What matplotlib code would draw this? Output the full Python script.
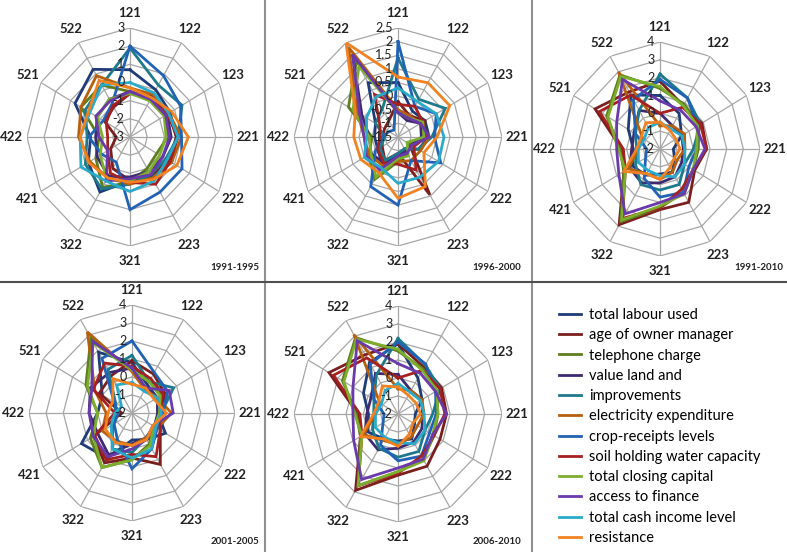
import numpy as np
import matplotlib
matplotlib.use("Agg")
import matplotlib.pyplot as plt
from matplotlib.lines import Line2D
from matplotlib.transforms import ScaledTranslation

plt.rcParams['font.family'] = ['Lato', 'DejaVu Sans']

axis_labels = ['121', '122', '123', '221', '222', '223', '321', '322', '421', '422', '521', '522']

series_names = ['total labour used', 'age of owner manager', 'telephone charge', 'value land and',
                'improvements', 'electricity expenditure', 'crop-receipts levels',
                'soil holding water capacity', 'total closing capital', 'access to finance',
                'total cash income level', 'resistance']
series_colors = ['#1F3C78', '#7A1E1E', '#5E7D1E', '#3E2A6E', '#1E7A8A', '#B5600E',
                 '#2262B5', '#A52020', '#7DAE2E', '#6A3AAA', '#2AAAC8', '#F08222']

p1_title = '1991-1995'
p1_ticks = [-3, -2, -1, 0, 1, 2, 3]
p1_ticklabels = ['-3', '-2', '-1', '0', '1', '2', '3']
p1_values = [
    [0.7, 0.0, -0.3, -0.3, -0.2, -0.5, -0.6, 0.5, -0.2, -0.7, 0.7, 1.3],
    [-0.6, -0.4, -0.4, -0.3, -0.4, -0.6, -0.6, -1.0, -1.7, -2.2, -1.3, -1.1],
    [-0.5, -0.5, -0.6, -0.8, -1.2, -1.0, -0.5, 0.2, -0.7, -1.2, 0.3, 0.3],
    [-0.5, -0.5, -0.5, -0.6, -0.8, -0.8, -0.8, -0.5, -0.8, -1.0, -0.8, -0.6],
    [1.9, 0.3, 0.5, -0.2, -0.6, -0.6, -0.4, 0.3, 0.0, -0.5, 0.0, 0.3],
    [-0.3, -0.3, -0.4, 0.0, -0.2, -0.4, -0.4, -0.4, -0.3, 0.0, 0.3, 0.9],
    [2.0, 0.9, 0.4, 0.0, 0.5, 0.5, 1.0, -1.4, -1.1, -0.6, -1.2, -0.9],
    [-0.6, -0.5, -0.5, -0.2, -0.3, 0.0, -0.5, -0.7, -1.5, -1.7, -1.4, -1.0],
    [-0.6, -0.7, -0.7, -0.9, -1.0, -0.8, -0.6, -0.3, -1.0, -1.4, -0.8, -0.6],
    [-0.5, -0.6, -0.6, -0.7, -0.8, -0.6, -0.7, -0.2, -1.5, -1.2, -0.7, -0.7],
    [0.0, -0.2, -0.4, -0.2, -0.5, -0.2, 0.0, -0.2, 0.3, -0.1, -0.3, 0.3],
    [-0.3, -0.5, -0.2, 0.4, 0.15, -0.3, -0.5, -0.4, -0.2, -0.1, -0.2, 0.6],
]

p2_title = '1996-2000'
p2_ticks = [-1.5, -1, -0.5, 0, 0.5, 1, 1.5, 2, 2.5]
p2_ticklabels = ['-1.5', '-1', '-0.5', '0', '0.5', '1', '1.5', '2', '2.5']
p2_values = [
    [0.5, -0.4, -0.3, -0.3, -0.6, -1.0, -0.7, -0.3, -0.6, -0.6, -0.5, 0.8],
    [-0.2, -0.6, -0.3, -0.5, -1.0, 0.95, -0.9, -0.5, -0.8, -0.9, -0.9, -0.8],
    [-0.5, -0.8, -0.4, -0.5, -1.0, -0.8, -0.6, 0.3, -0.2, -0.5, 0.7, 1.7],
    [-0.6, -0.8, -0.5, -0.6, -0.9, -0.9, -0.8, -0.4, -0.3, -0.4, 0.1, 2.0],
    [1.4, 0.1, 0.6, -0.2, -0.6, -1.0, -0.9, -0.5, -0.7, -1.0, -0.5, -0.3],
    [-0.5, -0.6, -0.5, -0.3, -0.5, -0.5, -0.6, -0.3, -0.2, -0.2, 0.3, 2.3],
    [2.0, -0.2, 0.2, -0.1, 0.4, -0.5, 1.0, 0.6, -0.5, -0.9, -1.1, -1.2],
    [-0.3, -0.2, -0.4, -0.4, -0.8, -0.1, -0.5, -0.4, -0.6, -0.8, -0.7, 0.3],
    [-0.6, -0.7, -0.4, -0.5, -1.1, -0.7, -0.7, 0.2, -0.3, -0.4, 0.5, 1.5],
    [-0.6, -0.7, -0.5, -0.3, -0.9, -0.8, -0.8, -0.1, -0.1, -0.2, 0.2, 2.0],
    [0.3, 0.0, 0.2, 0.27, 0.3, 0.2, 0.2, -0.2, 0.0, -0.3, -0.1, 0.2],
    [0.7, 0.8, 0.8, 0.0, -0.35, 0.6, 0.75, 0.0, 0.15, 0.2, 0.4, 2.5],
]

p3_title = '1991-2010'
p3_ticks = [-2, -1, 0, 1, 2, 3, 4]
p3_ticklabels = ['-2', '-1', '0', '1', '2', '3', '4']
p3_values = [
    [1.0, 0.3, -0.5, -1.2, -1.0, -0.5, -0.6, -0.3, -0.1, -0.4, 0.2, 1.5],
    [1.8, 0.8, 0.9, 0.8, 0.4, 1.45, 1.4, 2.9, 0.5, 0.3, 2.5, 1.7],
    [1.4, 0.9, 0.7, 0.3, 0.3, 0.8, 1.3, 2.7, 0.5, 0.4, 1.7, 2.8],
    [0.0, -0.5, -0.5, -0.6, -0.5, -0.2, -0.1, 0.2, 0.1, -0.3, -0.2, 0.5],
    [2.2, 1.3, 0.8, 0.0, -0.3, 0.3, 0.3, 0.3, -0.3, -0.6, -0.3, 0.5],
    [-0.7, -0.5, -0.3, -0.5, -0.8, -0.5, -0.3, -0.4, 0.2, -0.7, -0.8, 3.0],
    [1.9, 1.3, 0.6, 0.2, 0.0, 0.8, 0.7, -0.1, -1.0, -1.2, -0.3, 1.2],
    [0.0, 0.7, 0.8, 0.8, 0.3, 0.6, 1.3, 2.5, 0.4, 0.2, 2.2, 1.5],
    [1.5, 0.8, 0.6, 0.2, 0.3, 0.9, 1.2, 2.6, 0.4, 0.5, 1.6, 2.7],
    [0.7, 0.5, 0.5, 0.7, 0.3, 0.9, 1.0, 2.2, 0.85, 0.6, 1.0, 2.5],
    [-0.5, -0.7, -0.5, -0.5, -0.3, -0.2, -0.5, -0.6, -0.5, -0.7, -0.9, -0.6],
    [-0.5, -0.8, -0.9, -0.8, -1.0, -0.8, -0.3, -0.4, 0.5, -0.6, -0.7, -0.3],
]

p4_title = '2001-2005'
p4_ticks = [-2, -1, 0, 1, 2, 3, 4]
p4_ticklabels = ['-2', '-1', '0', '1', '2', '3', '4']
p4_values = [
    [0.8, -0.2, -0.3, -0.5, 0.25, -0.3, -0.5, 0.9, 1.4, 0.0, 0.0, 1.9],
    [0.9, 0.5, 0.2, -0.3, -0.1, 1.3, 0.5, 1.2, 0.6, -1.4, 0.2, 0.4],
    [0.4, 0.0, 0.0, -0.3, -0.5, 0.0, 0.6, 1.5, 0.8, 0.0, 1.1, 2.8],
    [0.5, -0.4, -0.3, -0.5, -0.5, -0.4, -0.3, 0.7, 0.3, 0.5, 0.8, 0.6],
    [1.2, 0.0, 0.8, -0.3, -0.5, -0.4, 0.2, 0.3, -0.7, -1.0, -0.9, 0.8],
    [0.3, -0.5, -0.3, 0.3, -0.3, -0.4, -0.2, -0.2, 0.0, -0.5, 0.5, 3.2],
    [2.0, 0.6, 0.4, -0.2, -0.3, 0.3, 1.1, -0.3, -0.8, -1.2, -0.8, 1.5],
    [0.6, 0.2, 0.1, -0.4, -0.1, 0.8, 0.3, 1.0, 0.5, -1.0, 0.6, 1.2],
    [0.4, 0.0, -0.1, -0.4, -0.5, 0.1, 0.6, 1.5, 0.6, 0.0, 1.0, 2.5],
    [0.5, -0.4, 0.5, 0.4, -0.6, -0.3, 0.0, 0.8, 0.6, 0.5, 0.7, 2.6],
    [-0.3, -0.6, -0.3, -0.3, -0.4, 0.3, 0.5, 0.3, -0.6, -1.0, -1.3, -0.2],
    [-0.4, -0.4, -0.5, 0.0, -0.6, -0.3, -0.2, -0.1, -0.2, -0.6, -0.7, 0.2],
]

p5_title = '2006-2010'
p5_ticks = [-2, -1, 0, 1, 2, 3, 4]
p5_ticklabels = ['-2', '-1', '0', '1', '2', '3', '4']
p5_values = [
    [1.9, 0.3, -0.4, -1.0, -0.9, -0.4, -0.5, -0.4, 0.0, -0.3, 0.3, 1.3],
    [1.9, 1.0, 0.9, 0.8, 0.8, 1.35, 1.4, 2.9, 0.5, 0.3, 2.6, 1.8],
    [1.5, 0.9, 0.6, 0.3, 0.4, 0.9, 1.2, 2.6, 0.5, 0.4, 1.7, 2.9],
    [0.2, -0.5, -0.4, -0.6, -0.4, -0.2, -0.1, 0.3, 0.2, -0.2, -0.2, 0.6],
    [2.2, 1.15, 0.8, 0.0, -0.2, 0.4, 0.4, 0.2, -0.3, -0.6, -0.4, 0.5],
    [-0.6, -0.5, -0.4, -0.5, -0.7, -0.5, -0.3, -0.3, 0.3, -0.7, -0.8, 3.1],
    [2.0, 1.2, 0.5, 0.2, 0.1, 0.7, 0.6, 0.0, -1.0, -1.2, -0.4, 1.2],
    [0.0, 0.8, 0.8, 0.7, 0.4, 0.7, 1.3, 2.6, 0.4, 0.2, 2.3, 1.6],
    [1.6, 0.8, 0.6, 0.3, 0.3, 1.0, 1.2, 2.6, 0.4, 0.5, 1.6, 2.8],
    [0.8, 0.6, 0.5, 0.8, 0.3, 0.9, 1.0, 2.2, 0.95, 0.6, 1.0, 2.7],
    [-0.3, -0.6, -0.5, -0.5, -0.2, -0.1, -0.4, -0.5, -0.5, -0.7, -0.9, -0.5],
    [-0.5, -0.8, -0.8, -0.7, -1.0, -0.7, -0.2, -0.4, 0.5, -0.6, -0.7, -0.2],
]

W, H = 787, 552
fig = plt.figure(figsize=(W / 100, H / 100), dpi=100)
fig.patch.set_facecolor('white')

n = len(axis_labels)
theta = np.linspace(0, 2 * np.pi, n, endpoint=False)
theta_c = np.append(theta, theta[0])


def radar(cx, cy, rx, ry, ticks, ticklabels, values, title, title_xy):
    ax = fig.add_axes([(cx - rx) / W, (H - cy - ry) / H, 2 * rx / W, 2 * ry / H],
                      projection='polar')
    ax.set_aspect('auto')
    ax.set_theta_offset(np.pi / 2)
    ax.set_theta_direction(-1)
    rmin, rmax = ticks[0], ticks[-1]
    ax.set_ylim(rmin, rmax)
    ax.grid(False)
    ax.spines['polar'].set_visible(False)
    ax.set_yticks([])
    ax.set_xticks(theta)
    ax.set_xticklabels(axis_labels, fontsize=9.5, fontweight='bold', color='#222222')
    ax.tick_params(axis='x', pad=0.5)
    ax.patch.set_alpha(0)
    gcol = '#A6A6A6'
    for t in ticks[1:]:
        ax.plot(theta_c, [t] * (n + 1), color=gcol, lw=0.9, zorder=1)
    for th in theta:
        ax.plot([th, th], [rmin, rmax], color=gcol, lw=0.9, zorder=1)
    for vals, col in zip(values, series_colors):
        v = np.append(vals, vals[0])
        ax.plot(theta_c, v, color=col, lw=2.0, zorder=3, solid_joinstyle='miter')
    off = ScaledTranslation(-4 / 72, 0, fig.dpi_scale_trans)
    for t, lab in zip(ticks, ticklabels):
        ax.text(0, t, lab, transform=ax.transData + off, ha='right', va='center',
                fontsize=9, color='#222222', zorder=5)
    fig.text(title_xy[0] / W, 1 - title_xy[1] / H, title, fontsize=7, fontweight='bold',
             ha='right', va='center', color='#222222')
    return ax


radar(130, 137, 103, 109, p1_ticks, p1_ticklabels, p1_values, p1_title, (259, 267))
radar(398, 137, 104, 109, p2_ticks, p2_ticklabels, p2_values, p2_title, (521, 267))
radar(660, 149, 100, 107, p3_ticks, p3_ticklabels, p3_values, p3_title, (783, 267))
radar(132, 413, 103, 108, p4_ticks, p4_ticklabels, p4_values, p4_title, (259, 542))
radar(398, 414, 104, 108, p5_ticks, p5_ticklabels, p5_values, p5_title, (521, 542))

# separators
fig.add_artist(Line2D([265 / W, 265 / W], [0, 1], color='#909090', lw=1.5))
fig.add_artist(Line2D([532 / W, 532 / W], [0, 1], color='#909090', lw=1.5))
fig.add_artist(Line2D([0, 1], [1 - 282 / H, 1 - 282 / H], color='#505050', lw=1.5))

handles = [Line2D([], [], color=c, lw=2.0) for c in series_colors]
fig.legend(handles, series_names, loc='upper left', bbox_to_anchor=(559 / W, 1 - 308 / H),
           frameon=False, fontsize=10.5, handlelength=1.5, handletextpad=0.55,
           labelspacing=0.43, borderaxespad=0, borderpad=0)

fig.savefig('out.png', dpi=100, facecolor='white')
